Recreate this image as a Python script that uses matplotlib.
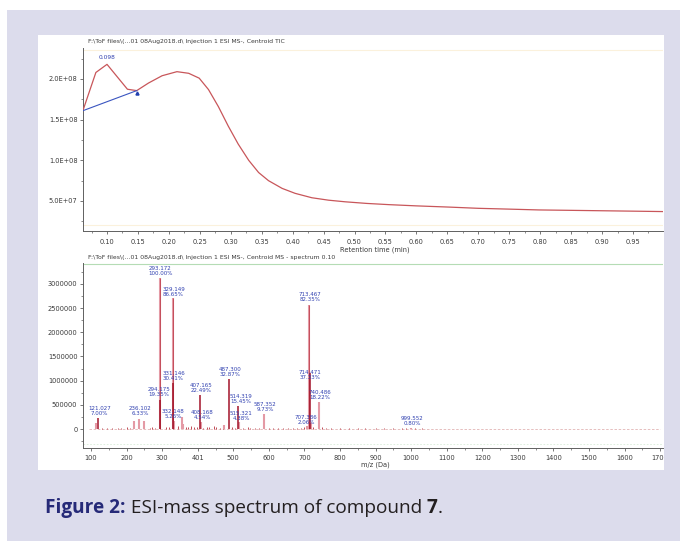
import matplotlib
matplotlib.use("Agg")
import matplotlib.pyplot as plt
from matplotlib.patches import Rectangle
from matplotlib.ticker import MultipleLocator, FixedLocator
from matplotlib.transforms import Bbox, TransformedBbox

W, H = 686, 547

# ---------------- data: TIC chromatogram ----------------
tic_time = [0.061, 0.082, 0.100, 0.133, 0.148, 0.167, 0.189, 0.213, 0.232, 0.249,
            0.264, 0.280, 0.296, 0.312, 0.329, 0.345, 0.361, 0.383, 0.404, 0.431,
            0.458, 0.485, 0.520, 0.556, 0.600, 0.653, 0.700, 0.750, 0.798, 0.850,
            0.900, 0.950, 0.998]
tic_value = [1.61e8, 2.08e8, 2.18e8, 1.874e8, 1.857e8, 1.95e8, 2.04e8, 2.09e8, 2.07e8, 2.01e8,
             1.87e8, 1.66e8, 1.42e8, 1.20e8, 1.00e8, 0.85e8, 0.75e8, 0.655e8, 0.594e8, 0.54e8,
             0.51e8, 0.49e8, 0.47e8, 0.455e8, 0.44e8, 0.425e8, 0.41e8, 0.40e8, 0.39e8, 0.385e8,
             0.38e8, 0.375e8, 0.37e8]
baseline_time = [0.061, 0.148]
baseline_value = [1.61e8, 1.857e8]
peak_rt = 0.100
peak_rt_label = "0.098"
rt_ticks = [0.10, 0.15, 0.20, 0.25, 0.30, 0.35, 0.40, 0.45, 0.50, 0.55, 0.60, 0.65,
            0.70, 0.75, 0.80, 0.85, 0.90, 0.95]
rt_tick_labels = ["0.10", "0.15", "0.20", "0.25", "0.30", "0.35", "0.40", "0.45", "0.50",
                  "0.55", "0.60", "0.65", "0.70", "0.75", "0.80", "0.85", "0.90", "0.95"]
tic_ticks = [5.0e7, 1.0e8, 1.5e8, 2.0e8]
tic_tick_labels = ["5.0E+07", "1.0E+08", "1.5E+08", "2.0E+08"]

# ---------------- data: mass spectrum ----------------
major_mz = [113, 121.027, 220, 236.102, 250, 293.172, 294.175, 329.149, 331.146, 332.148,
            355, 360, 407.165, 408.168, 475, 487.300, 514.319, 515.321, 587.352, 707.386,
            713.467, 714.471, 718, 740.486, 999.552]
major_int = [1.2e5, 2.18e5, 1.6e5, 1.97e5, 1.6e5, 3.12e6, 6.04e5, 2.70e6, 9.49e5, 1.64e5,
             2.4e5, 1.0e5, 7.02e5, 1.42e5, 8.0e4, 1.026e6, 4.82e5, 1.37e5, 3.04e5, 6.4e4,
             2.57e6, 1.165e6, 1.2e5, 5.68e5, 2.5e4]
dark_mz = [121.027, 294.175, 331.146, 407.165, 487.300, 514.319, 714.471]

minor_mz = [130, 145, 160, 175, 185, 200, 210, 265, 272, 280, 310, 318, 345, 367, 373, 381,
            390, 398, 416, 425, 432, 445, 452, 462, 470, 495, 505, 528, 540, 548, 560, 572,
            600, 612, 625, 640, 655, 668, 680, 690, 698, 725, 750, 760, 775, 800, 825, 850,
            870, 900, 925, 950, 975, 985, 1010, 1030, 1060, 1100, 1150, 1200, 1250, 1300]
minor_int = [2e4, 3e4, 2e4, 3e4, 2e4, 4e4, 3e4, 3e4, 4e4, 3e4, 5e4, 4e4, 6e4, 5e4, 4e4, 6e4,
             5e4, 4e4, 3e4, 5e4, 4e4, 6e4, 5e4, 3e4, 4e4, 4e4, 3e4, 3e4, 4e4, 3e4, 3e4, 2e4,
             3e4, 3e4, 2e4, 2e4, 2e4, 2e4, 2e4, 3e4, 4e4, 5e4, 4e4, 3e4, 2e4, 2e4, 2e4, 2e4,
             2e4, 1.5e4, 1.5e4, 2e4, 2e4, 3e4, 2e4, 1.5e4, 1e4, 1e4, 1e4, 1e4, 1e4, 1e4]

label_text = ["121.027\n7.00%", "236.102\n6.33%", "293.172\n100.00%", "329.149\n86.65%",
              "294.175\n19.35%", "331.146\n30.41%", "332.148\n5.26%", "407.165\n22.49%",
              "408.168\n4.54%", "487.300\n32.87%", "514.319\n15.45%", "515.321\n4.38%",
              "587.352\n9.73%", "707.386\n2.06%", "713.467\n82.35%", "714.471\n37.33%",
              "740.486\n18.22%", "999.552\n0.80%"]
# anchor (bottom-centre) of each label, in data units
label_x = [124, 238, 295, 332, 290, 332, 330, 409, 412, 491, 522, 522, 589, 704, 715, 715, 744, 1002]
label_y = [2.69e5, 2.69e5, 3.166e6, 2.73e6, 6.6e5, 9.9e5, 2.07e5, 7.45e5, 1.86e5, 1.076e6,
           5.17e5, 1.66e5, 3.5e5, 8.3e4, 2.63e6, 1.01e6, 6.0e5, 6.2e4]

mz_ticks = [100, 200, 300, 400, 500, 600, 700, 800, 900, 1000, 1100, 1200, 1300, 1400,
            1500, 1600, 1700]
mz_tick_labels = ["100", "200", "300", "401", "500", "600", "700", "800", "900", "1000",
                  "1100", "1200", "1300", "1400", "1500", "1600", "1700"]
int_ticks = [0, 500000, 1000000, 1500000, 2000000, 2500000, 3000000]
int_tick_labels = ["0", "500000", "1000000", "1500000", "2000000", "2500000", "3000000"]

title_tic = r"F:\ToF files\(...01 08Aug2018.d\ Injection 1 ESI MS-, Centroid TIC"
title_ms = r"F:\ToF files\(...01 08Aug2018.d\ Injection 1 ESI MS-, Centroid MS - spectrum 0.10"

# ---------------- figure ----------------
fig = plt.figure(figsize=(W / 100, H / 100), dpi=100)
fig.patch.set_facecolor("white")


def fx(px):
    return px / W


def fy(py):
    return 1 - py / H


lav = "#dcdcec"
fig.patches.append(Rectangle((fx(7), fy(541)), fx(680) - fx(7), fy(10) - fy(541),
                             transform=fig.transFigure, facecolor=lav, edgecolor="none", zorder=-3))
panel = Rectangle((fx(38), fy(470)), fx(664) - fx(38), fy(35) - fy(470),
                  transform=fig.transFigure, facecolor="white", edgecolor="none", zorder=-2)
fig.patches.append(panel)

txt_col = "#3a3a3a"
axis_col = "#606060"
lab_blue = "#3040b0"
fs_tick = 4.8
fs_title = 4.4


def style_axes(ax):
    for s in ["top", "right"]:
        ax.spines[s].set_visible(False)
    for s in ["left", "bottom"]:
        ax.spines[s].set_color(axis_col)
        ax.spines[s].set_linewidth(0.7)
    ax.tick_params(which="major", direction="out", length=2.5, width=0.6, colors=axis_col,
                   labelsize=fs_tick, labelcolor=txt_col, pad=1.5)
    ax.tick_params(which="minor", direction="out", length=1.6, width=0.5, colors=axis_col)
    ax.set_facecolor("none")


# ---- top: TIC ----
ax1 = fig.add_axes([fx(83), fy(231), fx(663) - fx(83), fy(48) - fy(231)])
style_axes(ax1)
ax1.set_xlim(0.0612, 0.9985)
ax1.set_ylim(1.311e7, 2.381e8)
ax1.axhline(2.36e8, color="#fbf1dc", lw=0.8, zorder=0)
ax1.axhline(2.0e7, color="#fbf1dc", lw=0.8, zorder=0)
ax1.plot(tic_time, tic_value, color="#c8565a", lw=0.9, solid_joinstyle="round", zorder=3)
ax1.plot(baseline_time, baseline_value, color="#3a55c0", lw=0.8, zorder=3)
ax1.plot([baseline_time[-1]], [baseline_value[-1] - 2.5e6], marker="^", ms=2.2,
         color="#2040b0", ls="none", zorder=4)
ax1.text(peak_rt, 2.26e8, peak_rt_label, color=lab_blue, fontsize=4.2, ha="center", va="center")
ax1.xaxis.set_major_locator(FixedLocator(rt_ticks))
ax1.set_xticklabels(rt_tick_labels)
ax1.xaxis.set_minor_locator(MultipleLocator(0.025))
ax1.yaxis.set_major_locator(FixedLocator(tic_ticks))
ax1.set_yticklabels(tic_tick_labels)
ax1.yaxis.set_minor_locator(MultipleLocator(2.5e7))
ax1.tick_params(axis="x", pad=3)
fig.text(fx(88), fy(42), title_tic, fontsize=fs_title, color=txt_col, ha="left", va="center")
fig.text(fx(375), fy(250), "Retention time (min)", fontsize=fs_tick, color=txt_col,
         ha="center", va="center")

# ---- bottom: spectrum ----
ax2 = fig.add_axes([fx(83), fy(448), fx(663) - fx(83), fy(263) - fy(448)])
style_axes(ax2)
ax2.set_xlim(77.5, 1708)
ax2.set_ylim(-3.93e5, 3.434e6)
ax2.axhline(3.41e6, color="#b5dcb5", lw=0.8, zorder=0)
ax2.axhline(-3.0e5, color="#d8ecd8", lw=0.6, ls=(0, (2, 2)), zorder=0)
ax2.plot([95, 1700], [0, 0], color="#e2b4b4", lw=0.6, ls=(0, (3, 2)), zorder=1)
ax2.vlines(minor_mz, 0, minor_int, colors="#c04a55", lw=0.7, zorder=2)
for m, v in zip(major_mz, major_int):
    dark = m in dark_mz
    ax2.vlines([m], 0, [v], colors="#a3142a" if dark else "#e49aa5",
               lw=1.1 if dark else 1.5, zorder=4 if dark else 3)
    if not dark and v > 1.5e6:
        ax2.vlines([m], 0, [v], colors="#b8303f", lw=0.5, zorder=3.5)
for t, x, y in zip(label_text, label_x, label_y):
    ax2.text(x, y, t, color=lab_blue, fontsize=4.0, ha="center", va="bottom",
             linespacing=1.05, zorder=5)
ax2.xaxis.set_major_locator(FixedLocator(mz_ticks))
ax2.set_xticklabels(mz_tick_labels)
ax2.xaxis.set_minor_locator(MultipleLocator(50))
ax2.yaxis.set_major_locator(FixedLocator(int_ticks))
ax2.set_yticklabels(int_tick_labels)
ax2.yaxis.set_minor_locator(MultipleLocator(250000))
ax2.tick_params(axis="x", pad=2.5)
fig.text(fx(88), fy(257), title_ms, fontsize=fs_title, color=txt_col, ha="left", va="center")
fig.text(fx(375), fy(465), "m/z (Da)", fontsize=fs_tick, color=txt_col, ha="center", va="center")

# clip tick labels to the white panel
pbox = TransformedBbox(Bbox([[fx(38), fy(470)], [fx(664), fy(35)]]), fig.transFigure)
for lab in ax2.get_xticklabels():
    lab.set_clip_box(pbox)
    lab.set_clip_on(True)

# ---------------- caption ----------------
renderer = fig.canvas.get_renderer()
cap_parts = [("Figure 2:", "bold", "#262a78"), (" ESI-mass spectrum of compound ", "normal", "#231f20"),
             ("7", "bold", "#231f20"), (".", "normal", "#231f20")]
cap_left, cap_right = 45, 442


def place_caption(size):
    xpos = fx(cap_left)
    objs = []
    for s, w, c in cap_parts:
        t = fig.text(xpos, fy(508), s, fontsize=size, fontweight=w, color=c, family="Open Sans",
                     ha="left", va="center")
        bb = t.get_window_extent(renderer=renderer)
        xpos += bb.width / W
        objs.append(t)
    return objs, xpos * W - cap_left


objs, width = place_caption(12)
for o in objs:
    o.remove()
size = 12 * (cap_right - cap_left) / width
place_caption(size)

fig.savefig("out.png", dpi=100, facecolor="white")
